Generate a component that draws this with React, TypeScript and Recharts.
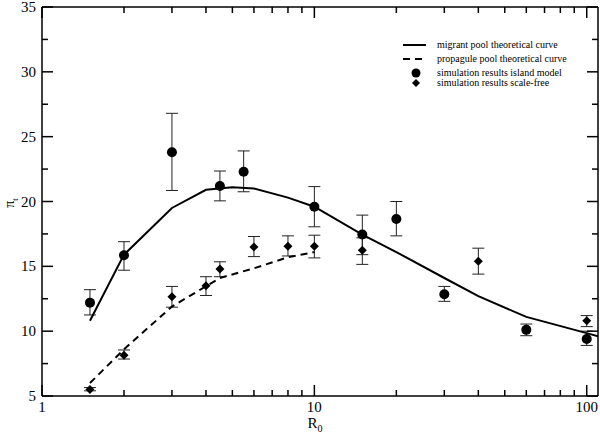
import React from 'react';
import { ComposedChart, Scatter, XAxis, YAxis, ErrorBar } from 'recharts';

// island model simulation
const islandR0 = [1.5, 2, 3, 4.5, 5.5, 10, 15, 20, 30, 60, 100];
const islandVal = [12.2, 15.85, 23.8, 21.2, 22.3, 19.6, 17.45, 18.65, 12.85, 10.1, 9.4];
const islandLow = [11.25, 14.7, 20.85, 20.05, 20.75, 18.05, 15.9, 17.35, 12.3, 9.65, 8.9];
const islandHigh = [13.2, 16.9, 26.8, 22.35, 23.9, 21.15, 18.95, 20.0, 13.45, 10.55, 10.0];

// scale-free simulation
const freeR0 = [1.5, 2, 3, 4, 4.5, 6, 8, 10, 15, 40, 100];
const freeVal = [5.5, 8.15, 12.65, 13.5, 14.8, 16.5, 16.55, 16.55, 16.25, 15.4, 10.8];
const freeLow = [5.4, 7.85, 11.85, 12.75, 14.2, 15.75, 15.8, 15.65, 15.15, 14.4, 10.35];
const freeHigh = [5.65, 8.55, 13.45, 14.2, 15.35, 17.3, 17.35, 17.4, 17.2, 16.4, 11.2];

// theoretical curves
const migrantR0 = [1.5, 2, 3, 4, 5, 6, 8, 10, 15, 20, 30, 40, 60, 100, 110];
const migrantVal = [10.8, 15.9, 19.5, 20.9, 21.1, 21.0, 20.3, 19.6, 17.45, 16.1, 14.1, 12.7, 11.1, 9.85, 9.6];
const propaguleR0 = [1.5, 2, 3, 4.5, 6, 8, 10];
const propaguleVal = [6.0, 8.6, 11.9, 14.1, 14.85, 15.7, 16.1];

const xTicks = [1, 2, 3, 4, 5, 6, 7, 8, 9, 10, 20, 30, 40, 50, 60, 70, 80, 90, 100];
const xMajor = [1, 10, 100];
const yTicks = [5, 7.5, 10, 12.5, 15, 17.5, 20, 22.5, 25, 27.5, 30, 32.5, 35];
const yMajor = [5, 10, 15, 20, 25, 30, 35];

const X_MIN = 1;
const X_MAX = 110;
const Y_MIN = 5;
const Y_MAX = 35;

// plot box, fixed by the axis sizes below
const W = 600;
const H = 436;
const LEFT = 42;
const RIGHT = W - 2;
const TOP = 7;
const BOTTOM = H - 40;

const withErr = (xs: number[], vs: number[], lo: number[], hi: number[]) =>
  xs.map((x, i) => ({ x, y: vs[i], err: [vs[i] - lo[i], hi[i] - vs[i]] }));
const points = (xs: number[], vs: number[]) => xs.map((x, i) => ({ x, y: vs[i] }));

const islandData = withErr(islandR0, islandVal, islandLow, islandHigh);
const freeData = withErr(freeR0, freeVal, freeLow, freeHigh);
const migrantData = points(migrantR0, migrantVal);
const propaguleData = points(propaguleR0, propaguleVal);

const serif = 'Liberation Serif';

const BottomLabel = (props: any) => {
  const { x, y, payload } = props;
  if (!xMajor.includes(payload.value)) return <g />;
  return (
    <text x={x} y={y + 16} textAnchor="middle" fontSize={15} fontFamily={serif} fill="#000">
      {payload.value}
    </text>
  );
};

const LeftLabel = (props: any) => {
  const { x, y, payload } = props;
  if (!yMajor.includes(payload.value)) return <g />;
  return (
    <text x={x - 6} y={y + 5} textAnchor="end" fontSize={15} fontFamily={serif} fill="#000">
      {payload.value}
    </text>
  );
};

const Dot = (props: any) => <circle cx={props.cx} cy={props.cy} r={5} fill="#000" />;
const Diamond = (props: any) => {
  const { cx, cy } = props;
  const s = 4.5;
  return <polygon points={`${cx},${cy - s} ${cx + s},${cy} ${cx},${cy + s} ${cx - s},${cy}`} fill="#000" />;
};
const NoDot = () => <g />;

// inward tick marks for the frame (same log / linear mapping as the axes)
const tx = (v: number) => LEFT + ((Math.log10(v) - Math.log10(X_MIN)) / (Math.log10(X_MAX) - Math.log10(X_MIN))) * (RIGHT - LEFT);
const ty = (v: number) => BOTTOM - ((v - Y_MIN) / (Y_MAX - Y_MIN)) * (BOTTOM - TOP);

const FrameTicks = () => (
  <g stroke="#000" strokeWidth={1.5}>
    {xTicks.map((v) => {
      const len = xMajor.includes(v) ? 11 : 6;
      const x = tx(v);
      return (
        <g key={`x${v}`}>
          <line x1={x} y1={BOTTOM} x2={x} y2={BOTTOM - len} />
          <line x1={x} y1={TOP} x2={x} y2={TOP + len} />
        </g>
      );
    })}
    {yTicks.map((v) => {
      const len = yMajor.includes(v) ? 11 : 6;
      const y = ty(v);
      return (
        <g key={`y${v}`}>
          <line x1={LEFT} y1={y} x2={LEFT + len} y2={y} />
          <line x1={RIGHT} y1={y} x2={RIGHT - len} y2={y} />
        </g>
      );
    })}
  </g>
);

const LegendBox = () => (
  <svg width={200} height={56} style={{ display: 'block' }}>
    <g fontFamily={serif} fontSize={10} fill="#000">
      <line x1={3} y1={9} x2={26} y2={9} stroke="#000" strokeWidth={2} />
      <text x={37} y={12}>migrant pool theoretical curve</text>
      <line x1={3} y1={23} x2={26} y2={23} stroke="#000" strokeWidth={2} strokeDasharray="7 5" />
      <text x={37} y={26}>propagule pool theoretical curve</text>
      <circle cx={16} cy={37} r={4.5} fill="#000" />
      <text x={37} y={40}>simulation results island model</text>
      <polygon points="16,43 20,47 16,51 12,47" fill="#000" />
      <text x={37} y={50}>simulation results scale-free</text>
    </g>
  </svg>
);

export default function App() {
  return (
    <div style={{ position: 'absolute', left: 0, top: 0, width: W, height: H }}>
      <ComposedChart width={W} height={H} margin={{ top: 0, right: 0, bottom: 0, left: 0 }}>
        <XAxis
          dataKey="x"
          type="number"
          scale="log"
          domain={[X_MIN, X_MAX]}
          allowDataOverflow
          ticks={xTicks}
          interval={0}
          height={BOTTOM === H - 40 ? 40 : 40}
          tickSize={0}
          tickMargin={0}
          tickLine={false}
          tick={BottomLabel}
          axisLine={{ stroke: '#000', strokeWidth: 1.5 }}
        />
        <XAxis
          xAxisId="top"
          orientation="top"
          type="number"
          scale="log"
          domain={[X_MIN, X_MAX]}
          allowDataOverflow
          height={TOP}
          tick={false}
          tickLine={false}
          axisLine={{ stroke: '#000', strokeWidth: 1.5 }}
        />
        <YAxis
          dataKey="y"
          type="number"
          domain={[Y_MIN, Y_MAX]}
          allowDataOverflow
          ticks={yTicks}
          interval={0}
          width={LEFT}
          tickSize={0}
          tickMargin={0}
          tickLine={false}
          tick={LeftLabel}
          axisLine={{ stroke: '#000', strokeWidth: 1.5 }}
        />
        <YAxis
          yAxisId="right"
          orientation="right"
          type="number"
          domain={[Y_MIN, Y_MAX]}
          allowDataOverflow
          width={W - RIGHT}
          tick={false}
          tickLine={false}
          axisLine={{ stroke: '#000', strokeWidth: 1.5 }}
        />
        <Scatter
          data={migrantData}
          shape={<NoDot />}
          line={{ stroke: '#000', strokeWidth: 2 }}
          isAnimationActive={false}
        />
        <Scatter
          data={propaguleData}
          shape={<NoDot />}
          line={{ stroke: '#000', strokeWidth: 2, strokeDasharray: '7 5' }}
          isAnimationActive={false}
        />
        <Scatter data={islandData} shape={<Dot />} isAnimationActive={false}>
          <ErrorBar dataKey="err" direction="y" width={6} stroke="#222" strokeWidth={1} />
        </Scatter>
        <Scatter data={freeData} shape={<Diamond />} isAnimationActive={false}>
          <ErrorBar dataKey="err" direction="y" width={6} stroke="#222" strokeWidth={1} />
        </Scatter>
      </ComposedChart>
      <svg width={W} height={H} style={{ position: 'absolute', left: 0, top: 0, pointerEvents: 'none' }}>
        <FrameTicks />
        <text x={315} y={428} textAnchor="middle" fontSize={15} fontFamily={serif} fill="#000">
          R<tspan fontSize={10} dy={4}>0</tspan>
        </text>
        <text
          transform="translate(14, 203) rotate(-90)"
          textAnchor="middle"
          fontSize={14}
          fontFamily={serif}
          fill="#000"
        >
          π<tspan fontSize={9} dy={4}>t</tspan>
        </text>
      </svg>
      <div style={{ position: 'absolute', left: 400, top: 36 }}>
        <LegendBox />
      </div>
    </div>
  );
}
